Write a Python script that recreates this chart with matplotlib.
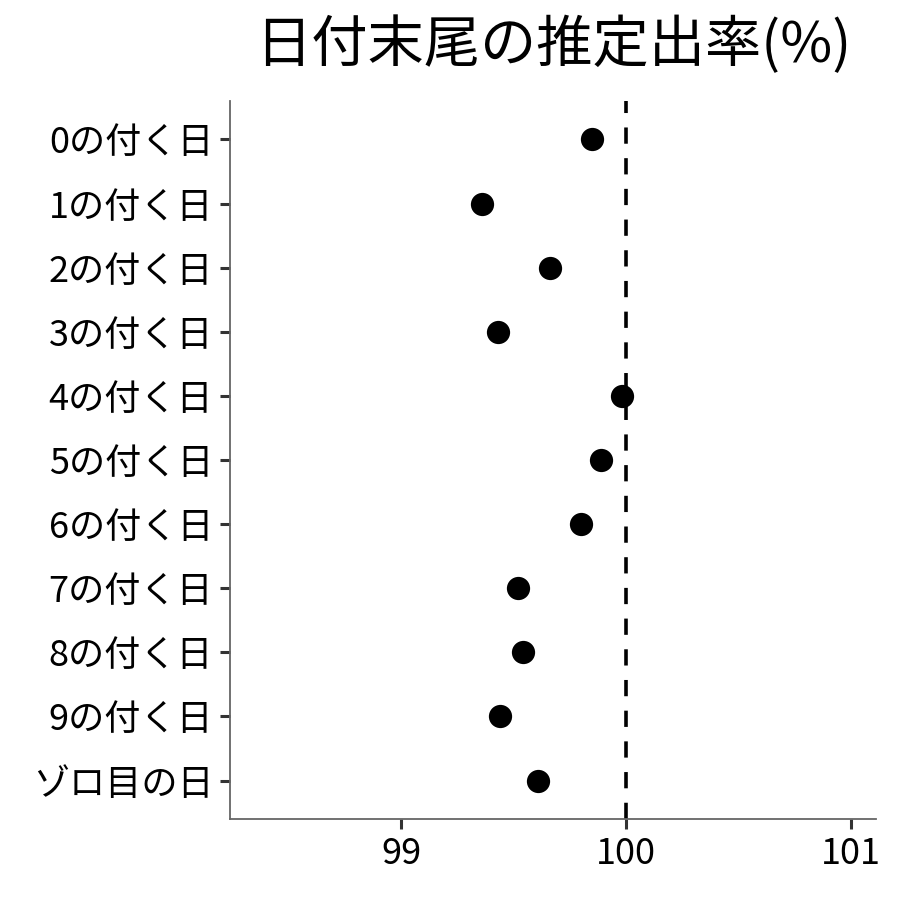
import matplotlib
matplotlib.use("Agg")
import matplotlib.pyplot as plt

plt.rcParams['font.family'] = ['Noto Sans CJK JP', 'DejaVu Sans']

categories = ["0の付く日", "1の付く日", "2の付く日", "3の付く日", "4の付く日",
              "5の付く日", "6の付く日", "7の付く日", "8の付く日", "9の付く日", "ゾロ目の日"]
values = [99.85, 99.36, 99.66, 99.43, 99.98, 99.89, 99.80, 99.52, 99.54, 99.44, 99.61]
ref_value = 100
xticks = [99, 100, 101]
title = "日付末尾の推定出率(%)"

fig = plt.figure(figsize=(9, 9), dpi=100)
ax = fig.add_axes([230/900, 1-819/900, (876-230)/900, (819-101)/900])

n = len(categories)
ypos = [n - 1 - i for i in range(n)]
ax.scatter(values, ypos, s=280, color='black', zorder=3, linewidths=0)
ax.axvline(ref_value, color='black', linestyle=(0, (4.5, 4)), linewidth=2.6, zorder=2)

ax.set_xlim(98.24, 101.11)
ax.set_ylim(-0.6, n - 1 + 0.6)
ax.set_yticks(ypos)
ax.set_yticklabels(categories)
ax.set_xticks(xticks)
ax.set_xticklabels([str(t) for t in xticks])

for s in ['top', 'right']:
    ax.spines[s].set_visible(False)
for s in ['left', 'bottom']:
    ax.spines[s].set_color('#666666')
    ax.spines[s].set_linewidth(1.3)

ax.tick_params(axis='both', length=7, width=2.2, color='#333333', labelsize=26, pad=5, labelcolor='black')

fig.text((230+876)/2/900, 1-46/900, title, ha='center', va='center', fontsize=40.5)

fig.savefig("out.png", dpi=100)
